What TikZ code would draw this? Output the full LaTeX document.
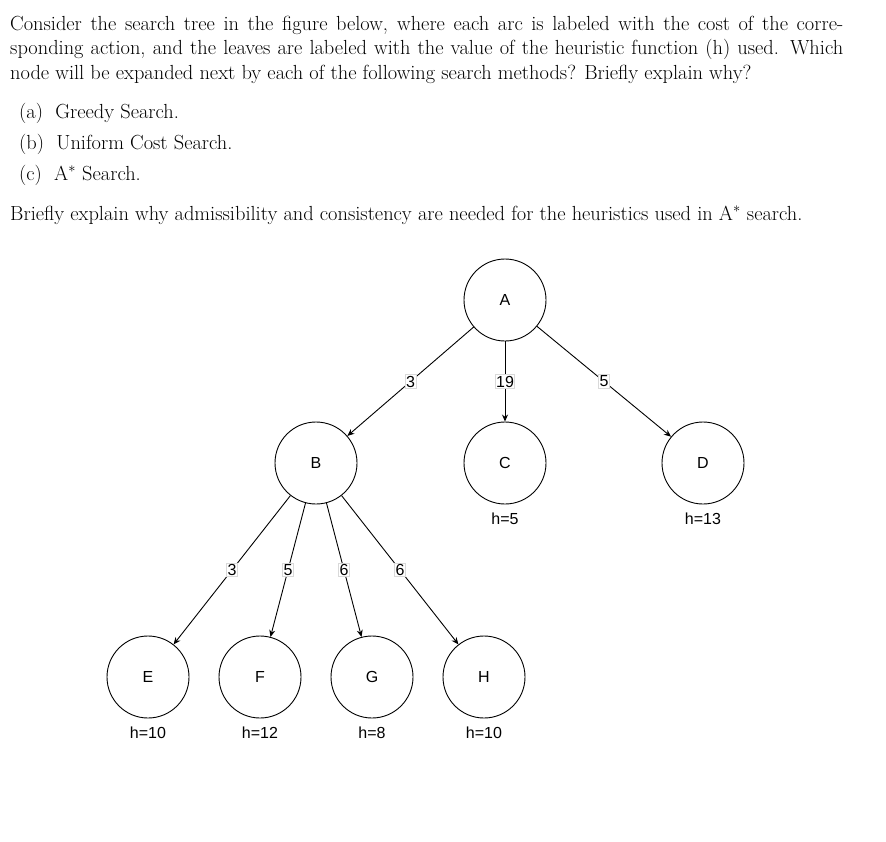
\documentclass[tikz,border=0pt]{standalone}
\usepackage{fontspec}
\newfontfamily\arial{Liberation Sans}
\usetikzlibrary{arrows.meta}
\begin{document}
\begin{tikzpicture}[x=1pt,y=-1pt,
  st/.style={circle,draw,line width=0.9pt,minimum size=82pt,inner sep=0pt,font=\arial\fontsize{16}{18}\selectfont},
  hl/.style={font=\arial\fontsize{16}{18}\selectfont},
  ed/.style={draw,line width=0.9pt,-{Stealth[length=7pt,width=6pt]}},
  cl/.style={fill=white,draw=black!15,inner sep=1pt,font=\arial\fontsize{16}{18}\selectfont},
  body/.style={anchor=base west,inner sep=0pt,font=\fontsize{20.4}{24.5}\selectfont}]
\useasboundingbox (0,0) rectangle (886,841);
\node[body,text width=833pt,align=justify] (p1) at (10,30) {Consider the search tree in the figure below, where each arc is labeled with the cost of the corre-\linebreak sponding action, and the leaves are labeled with the value of the heuristic function (h) used. Which\linebreak node will be expanded next by each of the following search methods? Briefly explain why?};
\node[body] (ia) at (19,118) {(a)\ \ Greedy Search.};
\node[body] (ib) at (19,149) {(b)\ \ Uniform Cost Search.};
\node[body] (ic) at (19,180) {(c)\ \ A$^*$ Search.};
\node[body] (q2) at (10,220) {Briefly explain why admissibility and consistency are needed for the heuristics used in A$^*$ search.};
\node[st] (A) at (505,300) {A};
\node[st] (B) at (316,463) {B};
\node[st] (C) at (505,463) {C};
\node[st] (D) at (703,463) {D};
\node[st] (E) at (148,677) {E};
\node[st] (F) at (260,677) {F};
\node[st] (G) at (372,677) {G};
\node[st] (H) at (484,677) {H};
\node[hl] (hc) at (505,519) {h=5};
\node[hl] (hd) at (703,519) {h=13};
\node[hl] (he) at (148,733) {h=10};
\node[hl] (hf) at (260,733) {h=12};
\node[hl] (hg) at (372,733) {h=8};
\node[hl] (hh) at (484,733) {h=10};
\draw[ed] (A) -- node[cl]{3} (B);
\draw[ed] (A) -- node[cl]{19} (C);
\draw[ed] (A) -- node[cl]{5} (D);
\draw[ed] (B) -- node[cl]{3} (E);
\draw[ed] (B) -- node[cl]{5} (F);
\draw[ed] (B) -- node[cl]{6} (G);
\draw[ed] (B) -- node[cl]{6} (H);
\end{tikzpicture}
\end{document}
